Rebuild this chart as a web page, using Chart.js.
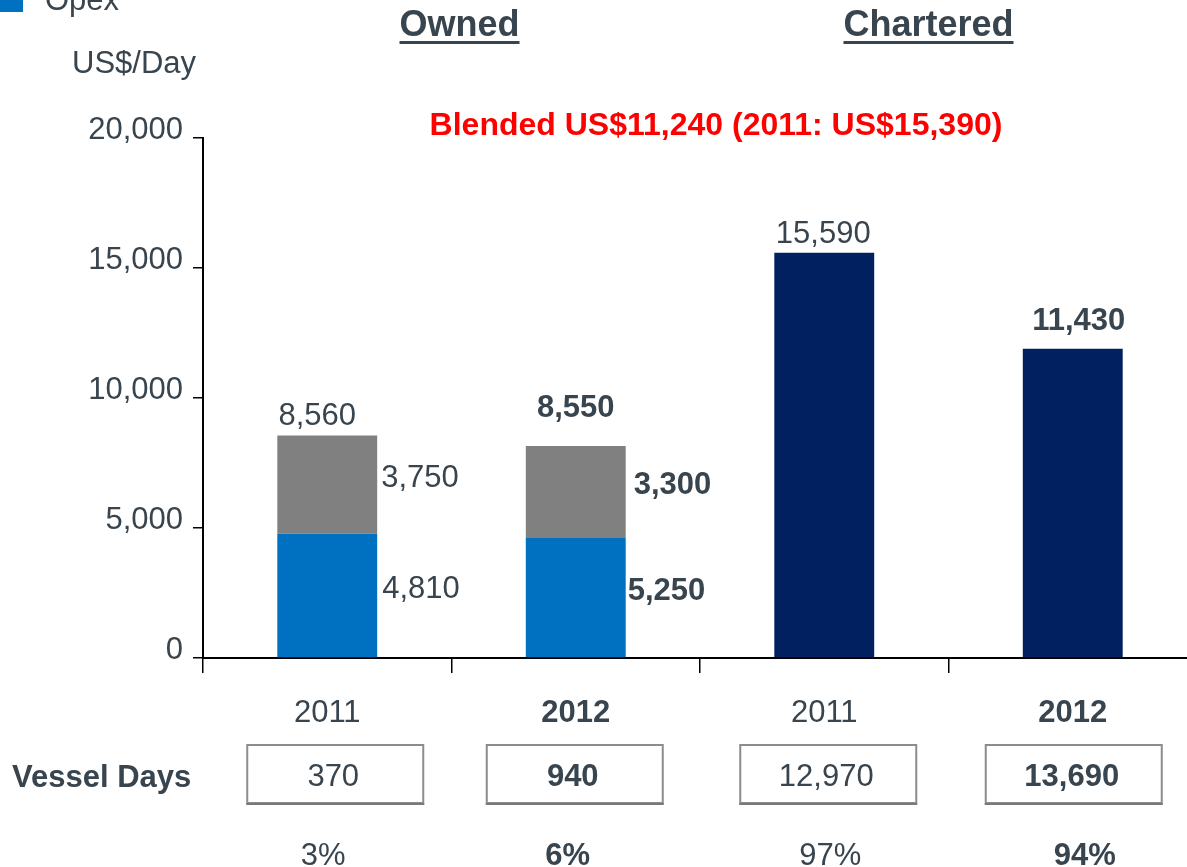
<!DOCTYPE html>
<html>
<head>
<meta charset="utf-8">
<script src="https://cdn.jsdelivr.net/npm/chart.js@4"></script>
<style>
  html, body { margin: 0; padding: 0; background: #fff; overflow: hidden; }
  #wrap { position: relative; width: 1187px; height: 867px; overflow: hidden; }
  #chart { position: absolute; left: 0; top: 0; }
</style>
</head>
<body>
<div id="wrap"><canvas id="chart" width="1200" height="867"></canvas></div>
<script>
//------data
const categories = ['2011', '2012', '2011', '2012'];
const boldYear = [false, true, false, true];
const opex = [4780, 4620, null, null];          // bar heights as drawn
const otherCost = [3780, 3530, null, null];
const charterHire = [null, null, 15590, 11890];
const totalLabels = ['8,560', '8,550', '15,590', '11,430'];
const opexLabels = ['4,810', '5,250'];
const otherLabels = ['3,750', '3,300'];
const vesselDays = ['370', '940', '12,970', '13,690'];
const shares = ['3%', '6%', '97%', '94%'];
const groups = ['Owned', 'Chartered'];
const yMax = 20000, yStep = 5000;

const FONT = '"Liberation Sans", Arial, sans-serif';
const TEXT = '#38444e';
const BLUE = '#0070c0', GREY = '#808080', NAVY = '#002060';

function font(size, bold) {
    return (bold ? 'bold ' : '') + size + 'px ' + FONT;
}

const annot = {
    id: 'annot',
    afterDraw(chart) {
        const ctx = chart.ctx;
        const x = chart.scales.x;
        const mOpex = chart.getDatasetMeta(0);
        const mOther = chart.getDatasetMeta(1);
        const mCh = chart.getDatasetMeta(2);
        ctx.save();
        ctx.fillStyle = TEXT;
        ctx.textBaseline = 'alphabetic';

        // totals above bars
        const dx = [-10, 0, -1, 6], dy = [10, 29, 10, 19];
        totalLabels.forEach((t, i) => {
            const bar = i < 2 ? mOther.data[i] : mCh.data[i];
            ctx.font = font(31, boldYear[i]);
            ctx.textAlign = 'center';
            ctx.fillText(t, bar.x + dx[i], bar.y - dy[i]);
        });

        // segment labels right of owned bars
        const gapOther = [4, 8], gapOpex = [5, 2];
        for (let i = 0; i < 2; i++) {
            ctx.font = font(31, boldYear[i]);
            ctx.textAlign = 'left';
            const g = mOther.data[i], b = mOpex.data[i];
            ctx.fillText(otherLabels[i], g.x + g.width / 2 + gapOther[i], (g.y + g.base) / 2 + 2.5);
            ctx.fillText(opexLabels[i], b.x + b.width / 2 + gapOpex[i], (b.y + b.base) / 2 + 2.5);
        }

        // vessel days row
        ctx.font = font(31, true);
        ctx.textAlign = 'left';
        ctx.fillText('Vessel Days', 12, 787);
        const boxShift = [8, -1, 4, 1], pctShift = [-4, -8, 6, 12];
        vesselDays.forEach((v, i) => {
            const cx = x.getPixelForValue(i);
            const bx = cx + boxShift[i];
            ctx.strokeStyle = '#8c8c8c';
            ctx.lineWidth = 2;
            ctx.strokeRect(bx - 88, 745, 176, 58);
            ctx.fillStyle = '#7a7a7a';
            ctx.fillRect(bx - 89, 803, 178, 2);
            ctx.fillStyle = TEXT;
            ctx.font = font(31, boldYear[i]);
            ctx.textAlign = 'center';
            ctx.fillText(v, bx - 2, 786);
            ctx.fillText(shares[i], cx + pctShift[i], 865);
        });

        // group headings
        ctx.font = font(36, true);
        ctx.textAlign = 'center';
        const headShift = [8, -20];
        groups.forEach((g, k) => {
            const cx = (x.getPixelForValue(2 * k) + x.getPixelForValue(2 * k + 1)) / 2 + headShift[k];
            ctx.fillText(g, cx, 36);
            const w = ctx.measureText(g).width;
            ctx.fillRect(cx - w / 2, 41, w, 3);
        });

        // blended note
        ctx.fillStyle = '#ff0000';
        ctx.font = font(32, true);
        ctx.fillText('Blended US$11,240 (2011: US$15,390)', 716, 135);

        // unit + legend
        ctx.fillStyle = TEXT;
        ctx.font = font(31, false);
        ctx.textAlign = 'left';
        ctx.fillText('US$/Day', 72, 73);
        ctx.fillText('Opex', 45, 10);
        ctx.fillStyle = BLUE;
        ctx.fillRect(0, -12, 23, 24);
        ctx.restore();
    }
};

const config = {
    type: 'bar',
    data: {
        labels: categories,
        datasets: [
            { label: 'Opex', data: opex, backgroundColor: BLUE },
            { label: 'Depreciation', data: otherCost, backgroundColor: GREY },
            { label: 'Charter hire', data: charterHire, backgroundColor: NAVY }
        ]
    },
    options: {
        responsive: false,
        animation: false,
        devicePixelRatio: 1,
        datasets: { bar: { barPercentage: 0.402, categoryPercentage: 1, borderWidth: 0 } },
        layout: { padding: { top: 138, right: 3, left: 0, bottom: 0 } },
        plugins: { legend: { display: false }, tooltip: { enabled: false } },
        scales: {
            x: {
                stacked: true,
                afterFit: s => { s.height = 209; },
                border: { display: true, color: '#000', width: 2 },
                grid: { offset: true, drawOnChartArea: false, drawTicks: true, tickLength: 15, color: '#000', lineWidth: 1.5 },
                ticks: {
                    padding: 22,
                    color: TEXT,
                    font: ctx => ({ family: FONT, size: 31, weight: boldYear[ctx.index] ? 'bold' : 'normal' })
                }
            },
            y: {
                stacked: true,
                min: 0,
                max: yMax,
                afterFit: s => { s.width = 203; },
                border: { display: true, color: '#000', width: 2 },
                grid: { drawOnChartArea: false, drawTicks: true, tickLength: 10, color: '#000', lineWidth: 1.5 },
                ticks: {
                    stepSize: yStep,
                    padding: 10,
                    labelOffset: -8,
                    color: TEXT,
                    font: { family: FONT, size: 31 },
                    callback: v => v.toLocaleString('en-US')
                }
            }
        }
    },
    plugins: [annot]
};

var chart = document.getElementById('chart');
var myChart = new Chart(chart, config);
</script>
</body>
</html>
